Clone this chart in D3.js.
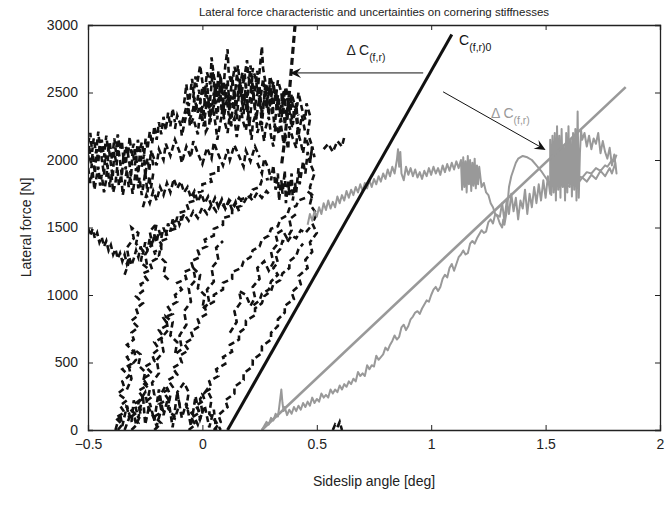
<!DOCTYPE html>
<html><head><meta charset="utf-8">
<script src="https://cdn.jsdelivr.net/npm/d3@7"></script>
<style>
body{margin:0;background:#fff}
svg{display:block}
text{font-family:"Liberation Sans",Arial,Helvetica,sans-serif;fill:#222}
</style>
</head><body>
<svg id="chart" width="667" height="513"></svg>
<script>
// Axis ticks
const xTicks = [-0.5, 0, 0.5, 1, 1.5, 2];
const xTickLabels = ["\u22120.5", "0", "0.5", "1", "1.5", "2"];
const yTicks = [0, 500, 1000, 1500, 2000, 2500, 3000];
const yTickLabels = ["0", "500", "1000", "1500", "2000", "2500", "3000"];

// Nominal cornering stiffness line C(f,r)0 and the two shifted characteristics [deg, N]
const nominalLine = [[0.11, 0], [1.09, 2930]];
const grayLine = [[0.26, 0], [1.85, 2540]];
const stiffDashed = [[0.405, 3000], [0.39, 2700], [0.375, 2400], [0.36, 2150], [0.345, 1950]];

// Measured lateral force, first set (black dashed traces) [deg, N]
const blackBandA = [[-0.50,1990],[-0.495,2110],[-0.485,1940],[-0.48,2050],[-0.47,1900],[-0.462,2080],[-0.455,1980],[-0.447,2150],[-0.44,2010],[-0.43,1890],[-0.425,2040],[-0.415,1950],[-0.41,2100],[-0.40,1970],[-0.392,1870],[-0.385,2060],[-0.375,1960],[-0.37,2120],[-0.36,1990],[-0.352,1880],[-0.345,2030],[-0.335,1930],[-0.33,2090],[-0.32,1990],[-0.312,1870],[-0.305,2070],[-0.295,1960],[-0.29,2020],[-0.28,1900],[-0.272,2080],[-0.265,1950],[-0.255,2040],[-0.25,1880],[-0.24,2010],[-0.232,1920],[-0.225,2070],[-0.215,1960]];
const blackBandB = [[-0.215,1900],[-0.225,1790],[-0.232,1880],[-0.24,1760],[-0.25,1910],[-0.258,1810],[-0.265,1740],[-0.275,1870],[-0.28,1790],[-0.29,1940],[-0.298,1830],[-0.305,1750],[-0.315,1880],[-0.322,1800],[-0.33,1930],[-0.34,1820],[-0.348,1740],[-0.355,1890],[-0.365,1810],[-0.372,1950],[-0.38,1830],[-0.39,1760],[-0.398,1900],[-0.405,1800],[-0.415,1960],[-0.422,1840],[-0.43,1760],[-0.44,1890],[-0.447,1810],[-0.455,1950],[-0.465,1850],[-0.472,1780],[-0.48,1920],[-0.49,1830],[-0.50,1950]];
const blackBandC = [[-0.50,2120],[-0.49,2200],[-0.482,2060],[-0.475,2160],[-0.465,2050],[-0.455,2210],[-0.448,2080],[-0.44,2150],[-0.43,2020],[-0.42,2180],[-0.412,2070],[-0.405,2130],[-0.395,2000],[-0.385,2160],[-0.378,2060],[-0.37,2190],[-0.36,2080],[-0.352,2140],[-0.345,2010],[-0.335,2100],[-0.325,2040],[-0.318,2170],[-0.31,2050],[-0.30,2120],[-0.29,2000],[-0.282,2150],[-0.275,2060],[-0.265,2130],[-0.255,2040],[-0.248,2160],[-0.24,2080],[-0.23,2210],[-0.22,2120],[-0.21,2250],[-0.20,2150],[-0.19,2280],[-0.18,2190],[-0.17,2320],[-0.16,2220],[-0.15,2350],[-0.14,2250],[-0.13,2380],[-0.12,2280]];
const blackTopA = [[-0.12,2230],[-0.11,2330],[-0.095,2260],[-0.09,2180],[-0.075,2300],[-0.06,2390],[-0.055,2250],[-0.04,2310],[-0.02,2190],[-0.015,2280],[0.00,2400],[0.01,2330],[0.015,2210],[0.03,2260],[0.035,2420],[0.05,2350],[0.06,2230],[0.065,2150],[0.08,2290],[0.09,2380],[0.095,2300],[0.11,2200],[0.12,2340],[0.125,2250],[0.14,2310],[0.15,2170],[0.155,2230],[0.17,2390],[0.175,2300],[0.19,2220],[0.20,2330],[0.215,2150],[0.22,2270],[0.235,2350],[0.24,2200],[0.255,2290],[0.27,2140],[0.275,2230],[0.29,2320],[0.30,2180],[0.31,2100],[0.32,2260],[0.335,2190],[0.34,2300],[0.355,2120],[0.36,2200],[0.375,2080],[0.38,2250],[0.395,2160],[0.41,2090],[0.415,2220],[0.43,2130],[0.44,2050],[0.45,2170],[0.465,2100]];
const blackTopB = [[0.47,2330],[0.455,2420],[0.45,2300],[0.435,2380],[0.42,2500],[0.415,2410],[0.40,2340],[0.39,2460],[0.38,2370],[0.365,2540],[0.36,2420],[0.345,2330],[0.33,2470],[0.325,2380],[0.31,2580],[0.30,2450],[0.29,2360],[0.28,2500],[0.265,2410],[0.26,2330],[0.25,2540],[0.235,2460],[0.23,2380],[0.215,2600],[0.21,2470],[0.195,2350],[0.18,2500],[0.175,2410],[0.16,2560],[0.15,2430],[0.145,2340],[0.13,2470],[0.12,2380],[0.11,2590],[0.10,2460],[0.09,2360],[0.075,2510],[0.07,2430],[0.055,2550],[0.05,2400],[0.035,2330],[0.02,2480],[0.015,2390],[0.00,2540],[-0.01,2420],[-0.02,2350],[-0.035,2460],[-0.04,2380],[-0.055,2300],[-0.065,2430],[-0.08,2330],[-0.09,2270]];
const blackTopC = [[-0.04,2460],[-0.03,2620],[-0.025,2540],[-0.01,2700],[0.00,2580],[0.01,2490],[0.02,2650],[0.035,2560],[0.04,2760],[0.05,2620],[0.065,2520],[0.07,2660],[0.085,2580],[0.09,2480],[0.10,2700],[0.11,2820],[0.115,2640],[0.13,2550],[0.14,2690],[0.155,2600],[0.16,2510],[0.175,2650],[0.18,2570],[0.195,2740],[0.20,2620],[0.215,2530],[0.22,2680],[0.235,2590],[0.24,2500],[0.25,2660],[0.26,2840],[0.265,2680],[0.275,2580],[0.29,2490],[0.295,2620],[0.31,2540],[0.32,2440],[0.33,2590],[0.345,2500],[0.35,2420],[0.365,2540],[0.37,2460],[0.385,2380],[0.39,2490],[0.405,2400],[0.42,2330]];
const blackTopD = [[0.42,2200],[0.41,2420],[0.395,2260],[0.38,2460],[0.37,2300],[0.355,2520],[0.345,2280],[0.33,2480],[0.315,2240],[0.30,2540],[0.29,2330],[0.275,2560],[0.26,2260],[0.25,2480],[0.235,2300],[0.22,2520],[0.205,2250],[0.19,2560],[0.18,2340],[0.165,2600],[0.15,2300],[0.14,2520],[0.125,2260],[0.11,2480],[0.095,2330],[0.08,2620],[0.065,2300],[0.05,2500],[0.035,2280],[0.02,2440],[0.005,2250],[-0.01,2380]];
const blackTopE = [[-0.08,2420],[-0.07,2560],[-0.06,2400],[-0.045,2600],[-0.03,2350],[-0.015,2520],[0.00,2290],[0.02,2570],[0.03,2380],[0.045,2650],[0.06,2420],[0.075,2580],[0.085,2340],[0.10,2560],[0.115,2330],[0.13,2620],[0.14,2450],[0.155,2700],[0.17,2480],[0.185,2640],[0.195,2420],[0.21,2700],[0.225,2470],[0.24,2660],[0.25,2400],[0.265,2600],[0.28,2380],[0.295,2560],[0.305,2330],[0.32,2520],[0.335,2320],[0.35,2480],[0.36,2260],[0.375,2430],[0.39,2240],[0.405,2380],[0.42,2180],[0.435,2330],[0.45,2200]];
const blackUnder = [[-0.22,2050],[-0.20,1960],[-0.19,2080],[-0.17,2000],[-0.16,2120],[-0.14,2030],[-0.12,2150],[-0.10,2060],[-0.09,1980],[-0.07,2100],[-0.05,2020],[-0.04,2140],[-0.02,2050],[0.00,1970],[0.02,2090],[0.04,2010],[0.05,2130],[0.07,2040],[0.09,1960],[0.11,2080],[0.12,2000],[0.14,2110],[0.16,2030],[0.18,1950],[0.19,2070],[0.21,1990],[0.23,2100],[0.25,2020]];
const blackRight = [[0.24,1980],[0.26,1900],[0.27,2010],[0.29,1930],[0.30,1850],[0.31,1960],[0.32,1780],[0.33,1900],[0.335,1700],[0.345,1850],[0.35,1750],[0.36,1920],[0.365,1680],[0.375,1840],[0.38,1740],[0.39,1900],[0.395,1700],[0.405,1830],[0.41,1760],[0.42,1940],[0.425,1820],[0.44,1990],[0.45,1900],[0.46,2060],[0.47,1980],[0.48,2100],[0.49,2020]];
const blackEdge = [[0.47,2300],[0.46,2200],[0.48,2100],[0.47,1980],[0.49,1900],[0.47,1800],[0.48,1700]];
const blackStrayTop = [[0.53,2080],[0.55,2120],[0.57,2060],[0.59,2140],[0.61,2100],[0.62,2170]];
const blackR1 = [[-0.37,0],[-0.35,40],[-0.38,90],[-0.34,130],[-0.36,180],[-0.33,220],[-0.37,270],[-0.34,310],[-0.35,360],[-0.32,400],[-0.35,450],[-0.31,490],[-0.33,540],[-0.30,580],[-0.33,630],[-0.30,670],[-0.31,720],[-0.28,760],[-0.31,810],[-0.28,850],[-0.29,900],[-0.26,940],[-0.29,990],[-0.26,1030],[-0.27,1080],[-0.24,1110],[-0.26,1160],[-0.22,1190],[-0.23,1240],[-0.20,1270],[-0.21,1320],[-0.18,1340],[-0.18,1400],[-0.15,1420],[-0.16,1470],[-0.12,1490],[-0.13,1540],[-0.09,1560],[-0.10,1610],[-0.06,1630],[-0.07,1680],[-0.03,1700],[-0.04,1750],[0.00,1770],[0.00,1820],[0.04,1840],[0.03,1890],[0.07,1910],[0.07,1960]];
const blackR2 = [[-0.31,0],[-0.28,50],[-0.31,100],[-0.27,150],[-0.29,200],[-0.26,240],[-0.28,290],[-0.24,330],[-0.26,380],[-0.22,420],[-0.25,470],[-0.21,510],[-0.22,560],[-0.19,600],[-0.21,650],[-0.17,690],[-0.19,740],[-0.15,780],[-0.17,830],[-0.13,860],[-0.15,910],[-0.11,950],[-0.12,1000],[-0.09,1040],[-0.11,1090],[-0.07,1120],[-0.08,1170],[-0.04,1200],[-0.05,1250],[-0.01,1280],[-0.02,1330],[0.02,1360],[0.01,1410],[0.05,1440],[0.05,1490],[0.09,1520],[0.09,1570],[0.13,1590],[0.13,1640],[0.17,1660],[0.17,1710],[0.21,1730],[0.22,1780],[0.25,1800],[0.26,1850],[0.29,1860]];
const blackR3 = [[-0.21,0],[-0.18,50],[-0.21,100],[-0.17,140],[-0.19,190],[-0.15,230],[-0.17,280],[-0.13,320],[-0.15,370],[-0.11,410],[-0.13,460],[-0.09,500],[-0.10,550],[-0.06,590],[-0.08,640],[-0.04,680],[-0.05,730],[-0.01,770],[-0.02,820],[0.02,860],[0.01,910],[0.05,950],[0.05,1000],[0.09,1040],[0.09,1090],[0.13,1120],[0.13,1170],[0.17,1200],[0.18,1250],[0.21,1280],[0.22,1330],[0.25,1360],[0.26,1410],[0.29,1440],[0.30,1490],[0.33,1510],[0.34,1560],[0.37,1590],[0.38,1640],[0.41,1660],[0.42,1700],[0.45,1720]];
const blackR4 = [[-0.06,0],[-0.03,40],[-0.05,90],[-0.01,130],[-0.03,180],[0.01,220],[0.00,270],[0.04,310],[0.03,360],[0.07,400],[0.06,450],[0.10,490],[0.09,540],[0.13,580],[0.12,630],[0.16,670],[0.16,720],[0.19,760],[0.19,810],[0.23,850],[0.23,900],[0.26,940],[0.27,990],[0.30,1030],[0.31,1080],[0.34,1110],[0.35,1160],[0.38,1200],[0.38,1250],[0.41,1290],[0.42,1340],[0.44,1380]];
const blackR5 = [[0.05,0],[0.08,60],[0.07,110],[0.11,170],[0.10,220],[0.14,270],[0.14,320],[0.18,370],[0.18,420],[0.22,470],[0.22,520],[0.26,570],[0.26,620],[0.30,670],[0.30,720],[0.33,770],[0.33,820],[0.36,870],[0.36,920],[0.40,970],[0.39,1020],[0.43,1080],[0.42,1140],[0.46,1200],[0.45,1260],[0.48,1320],[0.47,1390],[0.50,1460],[0.48,1530],[0.50,1600],[0.47,1670],[0.48,1740],[0.45,1780]];
const blackMid1 = [[-0.50,1500],[-0.49,1440],[-0.48,1490],[-0.47,1420],[-0.46,1460],[-0.45,1390],[-0.44,1430],[-0.43,1360],[-0.42,1400],[-0.41,1330],[-0.40,1370],[-0.39,1300],[-0.38,1340],[-0.37,1270],[-0.36,1310],[-0.35,1250],[-0.34,1300],[-0.33,1230],[-0.32,1280],[-0.31,1220],[-0.30,1270],[-0.29,1330],[-0.28,1280],[-0.27,1360],[-0.26,1300],[-0.25,1390],[-0.24,1330],[-0.23,1420],[-0.22,1360],[-0.21,1450],[-0.20,1390],[-0.19,1480],[-0.18,1420],[-0.17,1500],[-0.16,1440],[-0.15,1530],[-0.14,1470],[-0.13,1560],[-0.12,1500],[-0.11,1580],[-0.10,1520],[-0.08,1600],[-0.06,1550],[-0.04,1620],[-0.02,1570],[0.00,1650],[0.02,1600],[0.04,1670],[0.06,1620],[0.08,1690],[0.10,1640],[0.12,1700],[0.14,1660],[0.16,1720],[0.18,1680],[0.20,1740],[0.22,1700],[0.24,1760],[0.26,1720],[0.28,1770],[0.30,1730]];
const blackMid2 = [[-0.26,1650],[-0.245,1740],[-0.23,1680],[-0.215,1770],[-0.20,1700],[-0.185,1800],[-0.17,1740],[-0.155,1830],[-0.14,1760],[-0.125,1860],[-0.11,1790],[-0.095,1840],[-0.08,1760],[-0.065,1800],[-0.05,1720],[-0.035,1770],[-0.02,1690],[-0.005,1750],[0.01,1680],[0.025,1730],[0.04,1660],[0.055,1720],[0.07,1650],[0.085,1710],[0.10,1640],[0.115,1700],[0.13,1630],[0.145,1690],[0.16,1620]];
const blackMid3 = [[-0.34,1150],[-0.32,1250],[-0.33,1350],[-0.30,1420],[-0.31,1500],[-0.28,1460],[-0.29,1380],[-0.26,1330],[-0.27,1240],[-0.24,1200],[-0.25,1300],[-0.22,1380],[-0.23,1470],[-0.20,1530],[-0.21,1440],[-0.18,1380],[-0.19,1290],[-0.16,1240],[-0.17,1150],[-0.14,1100]];
const blackWander1 = [[-0.33,300],[-0.31,380],[-0.32,460],[-0.29,520],[-0.30,600],[-0.27,560],[-0.28,480],[-0.25,430],[-0.26,350],[-0.23,300],[-0.24,220],[-0.21,260],[-0.22,350],[-0.19,420],[-0.20,520],[-0.17,580],[-0.18,680],[-0.15,740],[-0.16,840],[-0.13,800],[-0.14,700],[-0.11,650],[-0.12,560],[-0.09,600],[-0.10,700],[-0.07,780],[-0.08,880],[-0.05,950],[-0.06,1050],[-0.03,1110],[-0.04,1200],[-0.01,1150],[-0.02,1050],[0.01,1000],[0.00,900],[0.03,940],[0.02,1040],[0.05,1100],[0.04,1200],[0.07,1260],[0.06,1350],[0.09,1400]];
const blackWander2 = [[0.12,720],[0.15,800],[0.14,880],[0.17,950],[0.16,1030],[0.19,1000],[0.21,920],[0.23,980],[0.22,1060],[0.25,1120],[0.24,1200],[0.27,1250],[0.29,1180],[0.31,1240],[0.30,1320],[0.33,1380],[0.32,1450],[0.35,1480],[0.37,1420],[0.39,1480],[0.38,1560],[0.41,1600]];
const blackArc = [[0.47,1500],[0.45,1460],[0.43,1480],[0.41,1420],[0.39,1440],[0.37,1390],[0.35,1400],[0.34,1340],[0.32,1300],[0.33,1240],[0.31,1200],[0.33,1150],[0.30,1100],[0.29,1040],[0.26,1010],[0.25,960],[0.22,920]];
const blackBottom = [[-0.38,0],[-0.36,120],[-0.35,30],[-0.33,180],[-0.31,60],[-0.30,220],[-0.28,90],[-0.26,260],[-0.25,40],[-0.23,200],[-0.21,70],[-0.19,300],[-0.17,110],[-0.15,240],[-0.13,20],[-0.11,280],[-0.09,90],[-0.07,200],[-0.05,30],[-0.03,250],[-0.01,80],[0.01,180],[0.03,20],[0.05,150],[0.06,0]];
const blackBottom2 = [[-0.34,0],[-0.32,90],[-0.33,170],[-0.30,130],[-0.29,40],[-0.27,110],[-0.28,200],[-0.25,280],[-0.24,180],[-0.22,120],[-0.20,30],[-0.18,150],[-0.19,240],[-0.16,330],[-0.14,260],[-0.15,160],[-0.12,90],[-0.10,190],[-0.11,280],[-0.08,350],[-0.06,280],[-0.07,170],[-0.04,110],[-0.02,40],[0.00,130],[-0.01,230],[0.02,300],[0.04,230],[0.03,120],[0.06,60],[0.08,0]];
const blackStray = [[0.57,0],[0.58,40],[0.59,20],[0.60,60],[0.61,0]];

// Measured lateral force, second set (gray solid traces) [deg, N]
const grayLower = [[0.26,0],[0.27,30],[0.28,60],[0.29,40],[0.30,90],[0.31,70],[0.32,120],[0.33,100],[0.335,160],[0.345,300],[0.35,200],[0.355,140],[0.36,170],[0.37,110],[0.38,150],[0.39,120],[0.40,170],[0.41,140],[0.42,180],[0.43,150],[0.44,200],[0.45,170],[0.46,210],[0.47,180],[0.48,240],[0.49,200],[0.50,230],[0.51,210],[0.52,270],[0.53,240],[0.54,260],[0.55,240],[0.56,300],[0.57,270],[0.58,300],[0.59,280],[0.60,330],[0.61,300],[0.62,340],[0.63,320],[0.64,360],[0.65,340],[0.66,380],[0.67,360],[0.68,430],[0.69,400],[0.70,420],[0.71,400],[0.72,480],[0.73,450],[0.74,480],[0.75,470],[0.76,550],[0.77,520],[0.78,540],[0.79,560],[0.80,610],[0.81,590],[0.82,630],[0.83,660],[0.84,700],[0.85,670],[0.86,690],[0.87,760],[0.88,780],[0.89,740],[0.90,770],[0.91,820],[0.92,840],[0.93,870],[0.94,880],[0.95,860],[0.96,900],[0.97,930],[0.98,960],[0.99,950],[1.00,1000],[1.01,1040],[1.02,1060],[1.03,1030],[1.04,1060],[1.05,1120],[1.06,1150],[1.07,1130],[1.08,1200],[1.09,1230],[1.10,1180],[1.11,1230],[1.12,1280],[1.13,1300],[1.14,1330],[1.15,1300],[1.16,1310],[1.17,1380],[1.18,1400],[1.19,1380],[1.20,1420],[1.21,1450],[1.22,1480],[1.23,1460],[1.24,1470],[1.25,1540],[1.26,1560],[1.27,1530],[1.28,1600],[1.29,1590],[1.30,1580],[1.31,1680],[1.32,1550],[1.33,1700],[1.34,1600],[1.35,1750],[1.36,1620],[1.37,1720],[1.38,1560],[1.39,1700],[1.40,1640],[1.41,1780],[1.42,1600],[1.43,1750],[1.44,1650],[1.45,1800],[1.46,1680],[1.47,1820],[1.48,1700],[1.49,1850],[1.50,1720],[1.51,1880],[1.52,1750],[1.53,1900],[1.54,1780],[1.55,1850],[1.56,1800],[1.57,1820],[1.58,1870],[1.59,1860],[1.60,1830],[1.62,1840],[1.64,1880],[1.66,1870],[1.68,1910],[1.70,1900],[1.72,1940],[1.74,1920],[1.76,1960],[1.77,1950],[1.79,2000],[1.80,1990],[1.81,2040]];
const grayUpper = [[0.46,1520],[0.47,1600],[0.48,1550],[0.49,1620],[0.50,1580],[0.51,1650],[0.52,1600],[0.53,1680],[0.54,1630],[0.55,1700],[0.56,1640],[0.57,1690],[0.58,1650],[0.59,1730],[0.60,1680],[0.61,1740],[0.62,1700],[0.63,1770],[0.64,1720],[0.65,1780],[0.66,1740],[0.67,1800],[0.68,1760],[0.69,1820],[0.70,1770],[0.71,1830],[0.72,1790],[0.73,1850],[0.74,1800],[0.75,1860],[0.76,1820],[0.77,1880],[0.78,1840],[0.79,1900],[0.80,1860],[0.81,1930],[0.82,1880],[0.83,1950],[0.84,1900],[0.85,2000],[0.855,2080],[0.86,1950],[0.865,2060],[0.87,1900],[0.88,1850],[0.89,1950],[0.90,1890],[0.91,1940],[0.92,1880],[0.93,1930],[0.94,1870],[0.95,1910],[0.96,1860],[0.97,1920],[0.98,1880],[0.99,1940],[1.00,1890],[1.01,1950],[1.02,1900],[1.03,1940],[1.04,1890],[1.05,1960],[1.06,1910],[1.07,1970],[1.08,1920],[1.09,1980],[1.10,1930],[1.11,1990],[1.12,1940],[1.13,2000],
[1.135,1780],[1.14,2020],[1.145,1800],[1.15,1990],[1.155,1760],[1.16,2030],[1.165,1820],[1.17,2000],[1.175,1770],[1.18,1980],[1.185,1810],[1.19,2010],[1.195,1790],[1.20,1960],[1.205,1820],[1.21,1950],[1.22,1800],[1.23,1830],[1.24,1760],[1.25,1740],[1.26,1680],[1.27,1650],[1.28,1600],[1.29,1580],[1.30,1530],[1.31,1500],[1.315,1560],[1.32,1520],[1.33,1620],[1.335,1700],[1.34,1800],[1.35,1880],[1.36,1930],[1.37,1980],[1.38,2010],[1.40,2030],[1.42,2020],[1.44,2000],[1.46,1960],[1.48,1920],[1.50,1870],[1.52,1820],
[1.52,2150],[1.525,1740],[1.53,2180],[1.535,1760],[1.54,2200],[1.545,1700],[1.55,2250],[1.555,1780],[1.56,2180],[1.565,1720],[1.57,2230],[1.575,1800],[1.58,2100],[1.585,1700],[1.59,2200],[1.595,1760],[1.60,2250],[1.605,1800],[1.61,2150],[1.615,1730],[1.62,2200],[1.625,1780],[1.63,2230],[1.635,1700],[1.64,2360],[1.645,1720],[1.65,2050],[1.655,2220],
[1.66,2150],[1.67,2200],[1.68,2100],[1.69,2180],[1.70,2080],[1.71,2160],[1.72,2120],[1.73,2200],[1.74,2050],[1.75,2140],[1.76,2060],[1.77,2010],[1.78,2090],[1.79,1960],[1.80,2040],[1.81,1900],[1.805,1980],[1.79,1900],[1.78,1940],[1.76,1880],[1.74,1920],[1.72,1860],[1.70,1890],[1.68,1840],[1.66,1870],[1.64,1820],[1.62,1850],[1.60,1800]];

// Annotation anchors [deg, N]
const arrowBlack = {from: [0.965, 2645], to: [0.383, 2645], label: [0.63, 2779]};
const arrowGray = {from: [1.052, 2505], to: [1.50, 2075], label: [1.261, 2312]};
const nominalLabel = [1.122, 2853];

const W = 667, H = 513;
const m = {left: 88, right: 7, top: 25, bottom: 83};
const svg = d3.select("#chart");

const x = d3.scaleLinear().domain([-0.5, 2]).range([m.left, W - m.right]);
const y = d3.scaleLinear().domain([0, 3000]).range([H - m.bottom, m.top]);

svg.append("defs").append("clipPath").attr("id", "plotArea")
  .append("rect").attr("x", x(-0.5)).attr("y", y(3000))
  .attr("width", x(2) - x(-0.5)).attr("height", y(0) - y(3000));

const plot = svg.append("g").attr("clip-path", "url(#plotArea)");
const line = d3.line().x(d => x(d[0])).y(d => y(d[1]));

// black dashed measurements
[blackBandA, blackBandB, blackBandC, blackTopA, blackTopB, blackTopC, blackTopD, blackTopE,
 blackUnder, blackRight, blackEdge, blackStrayTop, blackR1, blackR2, blackR3, blackR4, blackR5,
 blackMid1, blackMid2, blackMid3, blackWander1, blackWander2, blackArc, blackBottom,
 blackBottom2, blackStray].forEach(tr => {
  plot.append("path").attr("d", line(tr)).attr("fill", "none")
    .attr("stroke", "#111").attr("stroke-width", 2.6)
    .attr("stroke-dasharray", "6,3.5").attr("stroke-linejoin", "miter");
});

// gray measurements
[grayLower, grayUpper].forEach(tr => {
  plot.append("path").attr("d", line(tr)).attr("fill", "none")
    .attr("stroke", "#999").attr("stroke-width", 2).attr("stroke-linejoin", "round");
});

plot.append("path").attr("d", line(grayLine)).attr("fill", "none")
  .attr("stroke", "#999").attr("stroke-width", 2.6);
plot.append("path").attr("d", line(nominalLine)).attr("fill", "none")
  .attr("stroke", "#111").attr("stroke-width", 3);
plot.append("path").attr("d", line(stiffDashed)).attr("fill", "none")
  .attr("stroke", "#111").attr("stroke-width", 3.2).attr("stroke-dasharray", "7,4");

// axes box with inward ticks on all four sides
const axB = d3.axisBottom(x).tickValues(xTicks).tickFormat((d, i) => xTickLabels[i]).tickSize(-5).tickPadding(9);
const axT = d3.axisTop(x).tickValues(xTicks).tickFormat("").tickSize(-5);
const axL = d3.axisLeft(y).tickValues(yTicks).tickFormat((d, i) => yTickLabels[i]).tickSize(-5).tickPadding(10);
const axR = d3.axisRight(y).tickValues(yTicks).tickFormat("").tickSize(-5);

function styleAxis(g) {
  g.select(".domain").attr("stroke", "#222").attr("stroke-width", 1.3);
  g.selectAll(".tick line").attr("stroke", "#222").attr("stroke-width", 1);
  g.selectAll(".tick text").attr("font-size", 14).attr("fill", "#222")
    .attr("font-family", "'Liberation Sans', Arial, sans-serif");
}
svg.append("g").attr("transform", `translate(0,${y(0)})`).call(axB).call(styleAxis);
svg.append("g").attr("transform", `translate(0,${y(3000)})`).call(axT).call(styleAxis);
svg.append("g").attr("transform", `translate(${x(-0.5)},0)`).call(axL).call(styleAxis);
svg.append("g").attr("transform", `translate(${x(2)},0)`).call(axR).call(styleAxis);

// titles
svg.append("text").attr("x", (x(-0.5) + x(2)) / 2).attr("y", 16)
  .attr("text-anchor", "middle").attr("font-size", 11.5)
  .text("Lateral force characteristic and uncertainties on cornering stiffnesses");
svg.append("text").attr("x", (x(-0.5) + x(2)) / 2).attr("y", y(0) + 56)
  .attr("text-anchor", "middle").attr("font-size", 14).text("Sideslip angle [deg]");
svg.append("text").attr("transform", `translate(31,${(y(0) + y(3000)) / 2}) rotate(-90)`)
  .attr("text-anchor", "middle").attr("font-size", 14).text("Lateral force [N]");

// annotations
function arrow(a, color) {
  const x1 = x(a.from[0]), y1 = y(a.from[1]), x2 = x(a.to[0]), y2 = y(a.to[1]);
  const ang = Math.atan2(y2 - y1, x2 - x1);
  svg.append("line").attr("x1", x1).attr("y1", y1).attr("x2", x2 - 6 * Math.cos(ang)).attr("y2", y2 - 6 * Math.sin(ang))
    .attr("stroke", color).attr("stroke-width", 1);
  const L = 11, Wd = 5, N = 7;
  const pts = [
    [x2, y2],
    [x2 - L * Math.cos(ang) + Wd * Math.sin(ang), y2 - L * Math.sin(ang) - Wd * Math.cos(ang)],
    [x2 - N * Math.cos(ang), y2 - N * Math.sin(ang)],
    [x2 - L * Math.cos(ang) - Wd * Math.sin(ang), y2 - L * Math.sin(ang) + Wd * Math.cos(ang)]
  ];
  svg.append("path").attr("d", "M" + pts.map(p => p.join(",")).join("L") + "Z").attr("fill", color);
}
arrow(arrowBlack, "#111");
arrow(arrowGray, "#111");

function subLabel(pos, main, sub, color, size) {
  const t = svg.append("text").attr("x", x(pos[0])).attr("y", y(pos[1]))
    .attr("font-size", size).style("fill", color);
  t.append("tspan").text(main);
  t.append("tspan").attr("dy", size * 0.45).attr("font-size", size * 0.75).text(sub);
}
subLabel(arrowBlack.label, "\u0394 C", "(f,r)", "#222", 14);
subLabel(arrowGray.label, "\u0394 C", "(f,r)", "#999", 14);
subLabel(nominalLabel, "C", "(f,r)0", "#111", 14);
</script>
</body></html>
